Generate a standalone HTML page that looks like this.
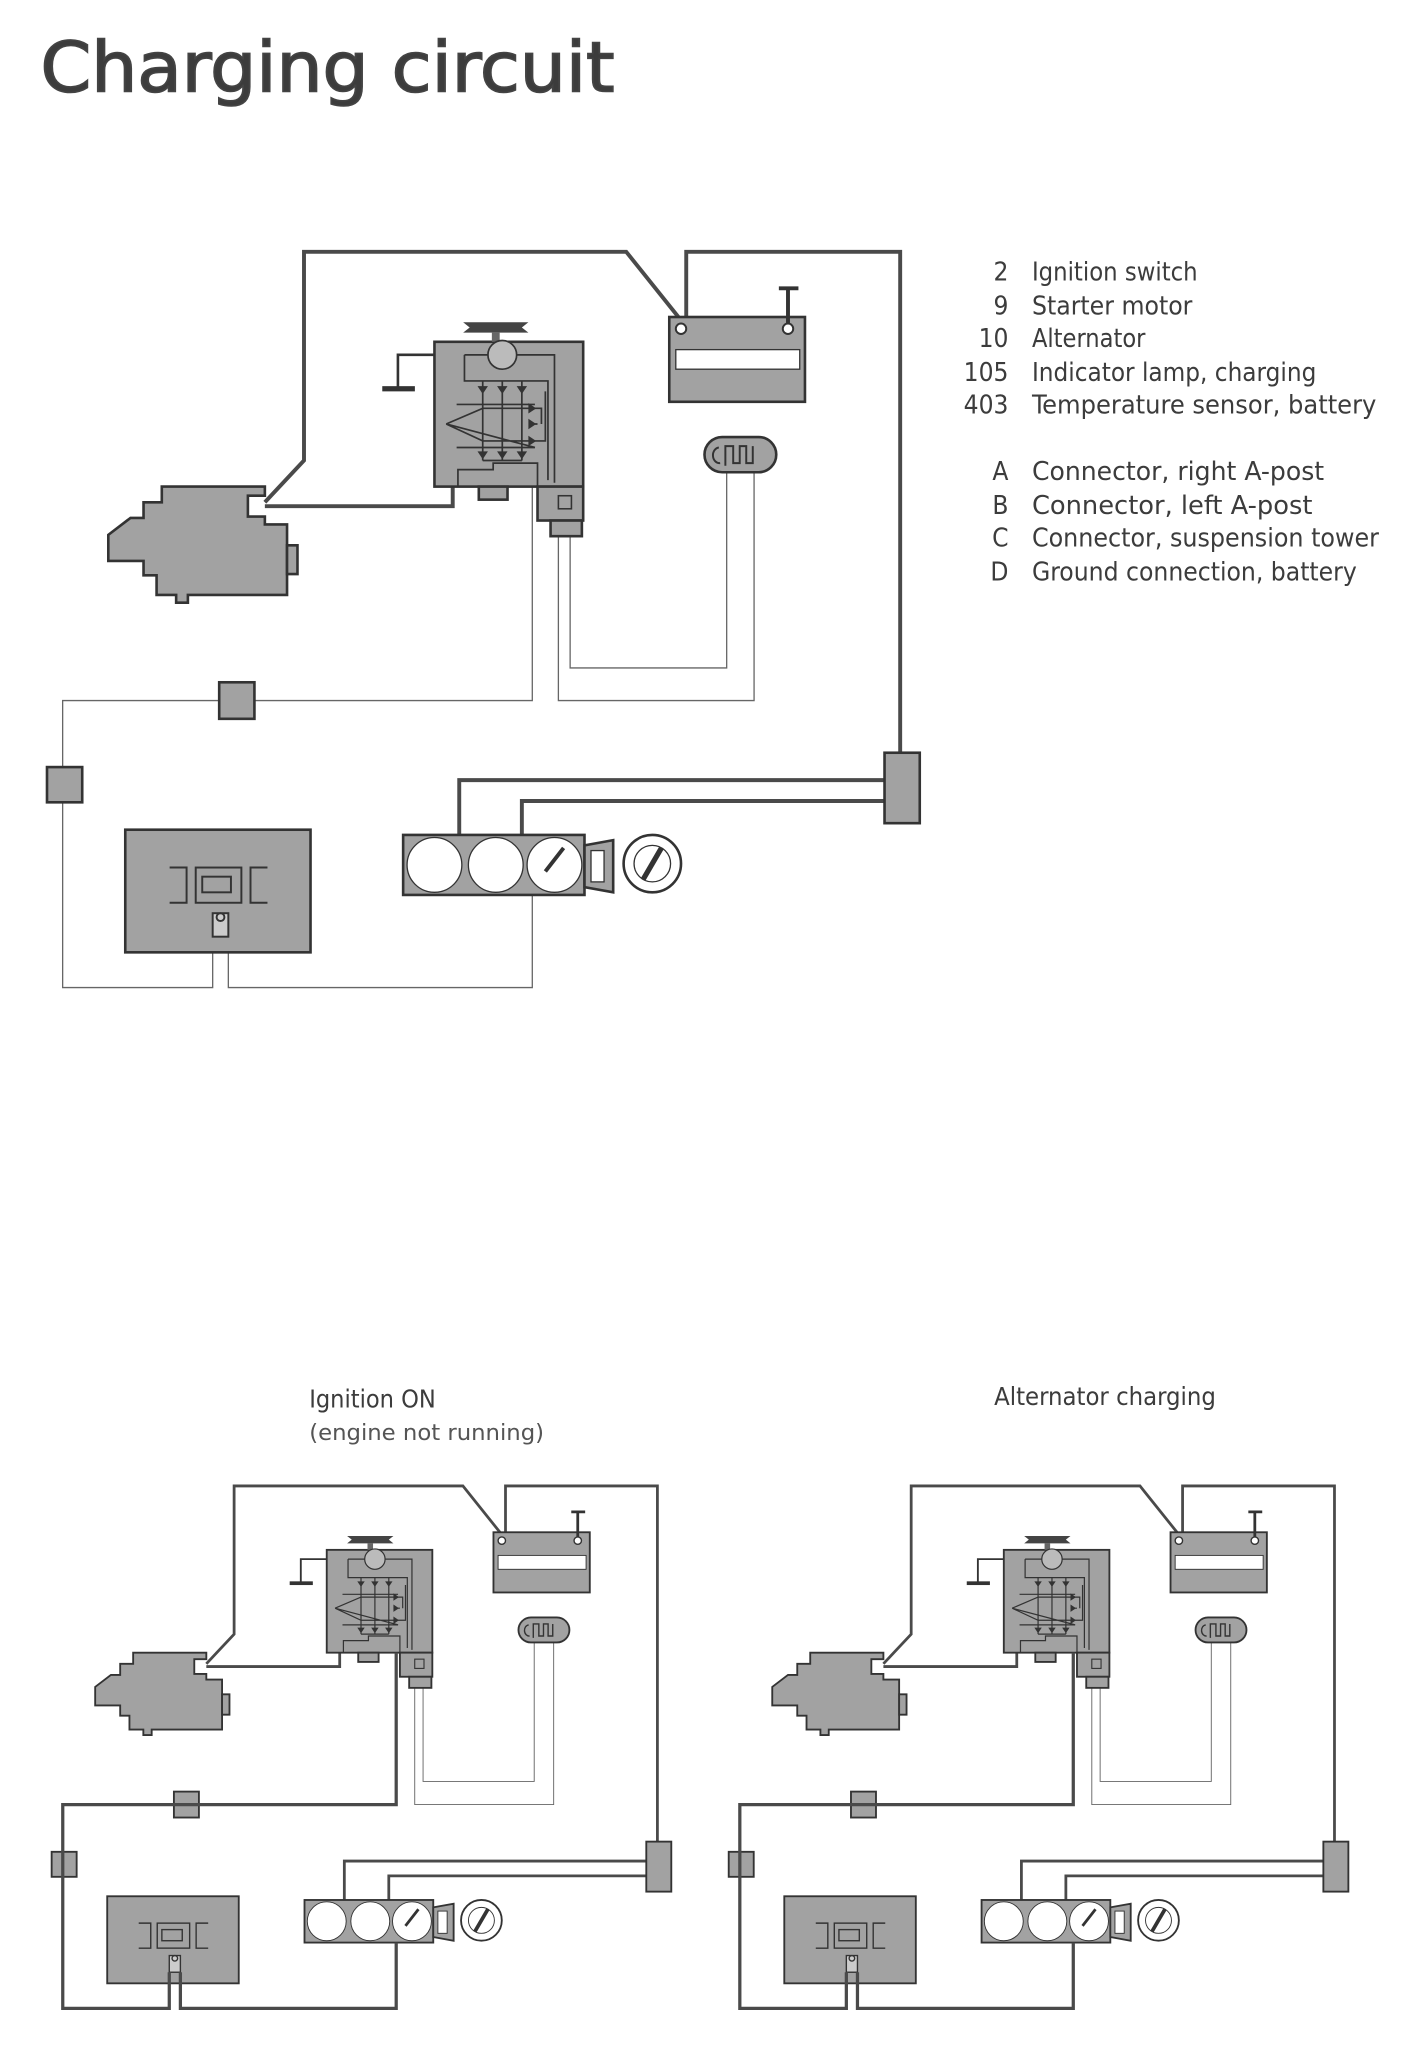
<!DOCTYPE html>
<html><head><meta charset="utf-8"><style>
html,body{margin:0;padding:0;background:#fff;}
svg{display:block;}
.t{font-family:"DejaVu Sans Condensed","Liberation Sans Narrow","Liberation Sans",sans-serif;fill:#3c3c3c;}
</style></head><body>
<svg width="1409" height="2053" viewBox="0 0 1080 1573.7" xmlns="http://www.w3.org/2000/svg">
<defs>
<g id="d">
 <g fill="none" stroke="#666" stroke-width="1">
  <path d="M408,373 V537 H48 V757 H163 V718"/>
  <path d="M175,718 V757 H408 V686"/>
  <path d="M428,410 V537 H578 V362"/>
  <path d="M437,410 V512 H557 V362"/>
 </g>
 <g fill="none" stroke="#4a4a4a" stroke-width="3" stroke-linejoin="miter">
  <path d="M203,385 L233,353 V193 H480 L520,243"/>
  <path d="M526,243 V193 H690 V610"/>
  <path d="M690,598 H352 V642"/>
  <path d="M690,614 H400 V642"/>
  <path d="M203,388 H347 V373"/>
 </g>
 <g stroke="#333" stroke-width="2" fill="#a2a2a2">
  <path d="M124,373 H203 V380 H190 V396 H203 V402 H220 V456 H144 V462 H135 V456 H120 V441 H110 V430 H83 V410 L100,397 H110 V385 H124 Z"/>
  <path d="M220,418 H228 V440 H220 Z"/>
  <rect x="333" y="262" width="114" height="111"/>
  <rect x="367" y="373" width="22" height="10"/>
  <rect x="412" y="373" width="35" height="26"/>
  <rect x="422" y="399" width="24" height="12"/>
  <rect x="513" y="243" width="104" height="65"/>
  <rect x="678" y="577" width="27" height="54"/>
  <rect x="168" y="523" width="27" height="28"/>
  <rect x="36" y="588" width="27" height="27"/>
  <rect x="96" y="636" width="142" height="94"/>
  <rect x="309" y="640" width="139" height="46"/>
  <path d="M448,648 L470,644 V684 L448,680 Z"/>
  <rect x="540" y="335" width="55" height="27" rx="13.5"/>
 </g>
 <path d="M355,247 H405 L400,251 L405,255 H355 L360,251 Z" fill="#444"/>
 <rect x="377" y="255" width="6" height="7" fill="#666"/>
 <path d="M333,272 H305 V298" fill="none" stroke="#333" stroke-width="2"/>
 <rect x="293" y="296" width="25" height="4" fill="#333"/>
 <g fill="none" stroke="#333" stroke-width="1.3">
  <circle cx="385" cy="272" r="11" fill="#bbb"/>
  <path d="M356,272 H374 M396,272 H425 V370 M356,272 V292 H420 V368"/>
  <path d="M342,325 L370,313 H410 M342,325 L370,338 H410 M350,310 H410 M350,343 H410 L342,325"/>
  <path d="M370,292 V353 M385,292 V353 M400,292 V353 M370,353 H400"/>
  <path d="M410,313 H415 V325 M410,338 H418 V300 M410,325 H412"/>
  <path d="M351,373 V360 H378 V355 H412 V375"/>
 </g>
 <g fill="#333">
  <path d="M366,296 h8 l-4,6 z M381,296 h8 l-4,6 z M396,296 h8 l-4,6 z"/>
  <path d="M366,346 h8 l-4,6 z M381,346 h8 l-4,6 z M396,346 h8 l-4,6 z"/>
  <path d="M405,309 v8 l6,-4 z M405,321 v8 l6,-4 z M405,334 v8 l6,-4 z"/>
 </g>
 <rect x="428" y="380" width="10" height="10" fill="none" stroke="#333" stroke-width="1.2"/>
 <rect x="518" y="268" width="95" height="15" fill="#fff" stroke="#333" stroke-width="1"/>
 <circle cx="522" cy="252" r="4" fill="#fff" stroke="#333" stroke-width="1.5"/>
 <circle cx="604" cy="252" r="4" fill="#fff" stroke="#333" stroke-width="1.5"/>
 <path d="M604,248 V222 M597,221 H612" stroke="#333" stroke-width="3"/>
 <path d="M556,357 V342 H562 V355 H567 V342 H572 V355 H577 V342 M551,343 a5,6 0 1 0 1,12" fill="none" stroke="#333" stroke-width="1.5"/>
 <g fill="none" stroke="#333" stroke-width="1.5">
  <path d="M130,665 H143 V692 H130 M205,665 H192 V692 H205"/>
  <rect x="150" y="665" width="35" height="27"/>
  <rect x="155" y="672" width="22" height="12"/>
  <rect x="163" y="700" width="12" height="18" fill="#ccc"/>
  <circle cx="169" cy="703" r="3"/>
 </g>
 <g fill="#fff" stroke="#333" stroke-width="1">
  <circle cx="333" cy="663" r="21"/>
  <circle cx="380" cy="663" r="21"/>
  <circle cx="425" cy="663" r="21"/>
  <rect x="453" y="652" width="10" height="24"/>
  <circle cx="500" cy="662" r="22" stroke-width="2"/>
  <circle cx="500" cy="662" r="14"/>
 </g>
 <path d="M493,674 L507,650" stroke="#333" stroke-width="4"/>
 <path d="M418,668 L432,650" stroke="#333" stroke-width="3"/>
</g>
<g id="hot" fill="none" stroke="#4a4a4a" stroke-width="3.5">
  <path d="M408,373 V537 H48 V757 H163 V718"/>
  <path d="M175,718 V757 H408 V686"/>
</g>
</defs>

<text class="t" x="31" y="70" font-size="53" fill="#444" stroke="#444" stroke-width="1.2" textLength="440" lengthAdjust="spacingAndGlyphs">Charging  circuit</text>

<use href="#d"/>

<g class="t" font-size="20">
 <g text-anchor="end">
  <text x="773" y="215">2</text>
  <text x="773" y="241">9</text>
  <text x="773" y="266">10</text>
  <text x="773" y="292">105</text>
  <text x="773" y="317">403</text>
  <text x="773" y="368">A</text>
  <text x="773" y="394">B</text>
  <text x="773" y="419">C</text>
  <text x="773" y="445">D</text>
 </g>
 <text x="791" y="215" textLength="127" lengthAdjust="spacingAndGlyphs">Ignition  switch</text>
 <text x="791" y="241" textLength="123" lengthAdjust="spacingAndGlyphs">Starter  motor</text>
 <text x="791" y="266" textLength="87" lengthAdjust="spacingAndGlyphs">Alternator</text>
 <text x="791" y="292" textLength="218" lengthAdjust="spacingAndGlyphs">Indicator  lamp,  charging</text>
 <text x="791" y="317" textLength="264" lengthAdjust="spacingAndGlyphs">Temperature  sensor,  battery</text>
 <text x="791" y="368" textLength="224" lengthAdjust="spacingAndGlyphs">Connector,  right  A-post</text>
 <text x="791" y="394" textLength="215" lengthAdjust="spacingAndGlyphs">Connector,  left  A-post</text>
 <text x="791" y="419" textLength="266" lengthAdjust="spacingAndGlyphs">Connector,  suspension  tower</text>
 <text x="791" y="445" textLength="249" lengthAdjust="spacingAndGlyphs">Ground  connection,  battery</text>
</g>

<g class="t" font-size="19">
 <text x="237" y="1079" textLength="97" lengthAdjust="spacingAndGlyphs">Ignition  ON</text>
 <text x="237" y="1104" textLength="180" lengthAdjust="spacingAndGlyphs" font-size="17" fill="#555">(engine  not  running)</text>
 <text x="762" y="1077" textLength="170" lengthAdjust="spacingAndGlyphs">Alternator  charging</text>
</g>

<g transform="translate(14,1002) scale(0.71)"><use href="#d"/><use href="#hot"/></g>
<g transform="translate(533,1002) scale(0.71)"><use href="#d"/><use href="#hot"/></g>
</svg>
</body></html>
